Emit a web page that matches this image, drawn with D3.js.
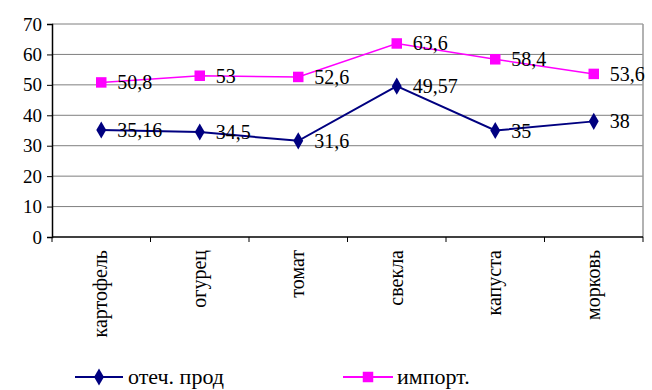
<!DOCTYPE html>
<html>
<head>
<meta charset="utf-8">
<script src="https://cdn.jsdelivr.net/npm/d3@7"></script>
<style>
  body { margin: 0; background: #fff; }
  svg, svg text { font-family: "Liberation Serif", "Times New Roman", Tinos, "DejaVu Serif", serif !important; }
</style>
</head>
<body>
<svg width="652" height="390"></svg>
<script>
// data
const categories = ['картофель', 'огурец', 'томат', 'свекла', 'капуста', 'морковь'];
const domestic = [35.16, 34.5, 31.6, 49.57, 35, 38];
const imported = [50.8, 53, 52.6, 63.6, 58.4, 53.6];
const domesticLabels = ['35,16', '34,5', '31,6', '49,57', '35', '38'];
const importedLabels = ['50,8', '53', '52,6', '63,6', '58,4', '53,6'];
const yTicks = [0, 10, 20, 30, 40, 50, 60, 70];
const seriesNames = ['отеч. прод', 'импорт.'];

const svg = d3.select('svg');
const plot = {left: 52, right: 643, top: 24, bottom: 237};

const xScale = d3.scaleBand()
    .domain(categories)
    .range([plot.left, plot.right]);

const yScale = d3.scaleLinear()
    .domain([0, 70])
    .range([plot.bottom, plot.top]);

// gridlines
svg.append('g')
    .selectAll('line')
    .data(yTicks.filter(d => d > 0))
    .join('line')
    .attr('x1', plot.left)
    .attr('x2', plot.right)
    .attr('y1', d => yScale(d))
    .attr('y2', d => yScale(d))
    .attr('stroke', '#7f7f7f')
    .attr('stroke-width', 1);

// right border of plot area
svg.append('line')
    .attr('x1', plot.right).attr('x2', plot.right)
    .attr('y1', plot.top).attr('y2', plot.bottom)
    .attr('stroke', '#999').attr('stroke-width', 1.5);

// y axis
const yAxis = svg.append('g')
    .attr('transform', `translate(${plot.left},0)`)
    .call(d3.axisLeft(yScale).tickValues(yTicks).tickSize(5).tickPadding(5));
yAxis.attr('font-family', null);
yAxis.select('.domain').attr('stroke', '#000').attr('stroke-width', 1.5);
yAxis.selectAll('.tick line').attr('stroke', '#000');
yAxis.selectAll('text')
    .attr('font-size', 19)
    .attr('fill', '#000');

// x axis: ticks between categories
const xAxis = svg.append('g')
    .attr('transform', `translate(0,${plot.bottom})`);
xAxis.append('line')
    .attr('x1', plot.left).attr('x2', plot.right)
    .attr('stroke', '#000').attr('stroke-width', 1.5);
const boundaries = categories.map(c => xScale(c)).concat([plot.right]);
xAxis.selectAll('.sep')
    .data(boundaries)
    .join('line')
    .attr('class', 'sep')
    .attr('x1', d => d).attr('x2', d => d)
    .attr('y1', 0).attr('y2', 5)
    .attr('stroke', '#000');

svg.append('g')
    .selectAll('text')
    .data(categories)
    .join('text')
    .attr('transform', d => `translate(${xScale(d) + xScale.bandwidth() / 2 + 6},250) rotate(-90)`)
    .attr('text-anchor', 'end')
    .attr('font-size', 20)
    .text(d => d);

const cx = d => xScale(d) + xScale.bandwidth() / 2;

const line = d3.line()
    .x((d, i) => cx(categories[i]))
    .y(d => yScale(d));

const diamond = d3.symbol().type(d3.symbolDiamond).size(85);
const square = d3.symbol().type(d3.symbolSquare).size(110);

function drawSeries(values, labels, color, width, symbol) {
    const g = svg.append('g');
    g.append('path')
        .datum(values)
        .attr('d', line)
        .attr('fill', 'none')
        .attr('stroke', color)
        .attr('stroke-width', width);
    g.selectAll('.pt')
        .data(values)
        .join('path')
        .attr('class', 'pt')
        .attr('d', symbol)
        .attr('transform', (d, i) => `translate(${cx(categories[i])},${yScale(d)})`)
        .attr('fill', color);
    g.selectAll('.lbl')
        .data(values)
        .join('text')
        .attr('class', 'lbl')
        .attr('x', (d, i) => cx(categories[i]) + 16)
        .attr('y', d => yScale(d) + 7)
        .attr('font-size', 20)
        .text((d, i) => labels[i]);
}

drawSeries(imported, importedLabels, '#ff00ff', 1.5, square);
drawSeries(domestic, domesticLabels, '#000080', 2, diamond);

// legend
const legend = [
    {name: seriesNames[0], color: '#000080', symbol: diamond, x1: 75, x2: 123, tx: 128},
    {name: seriesNames[1], color: '#ff00ff', symbol: square, x1: 343, x2: 393, tx: 397}
];
const lg = svg.append('g');
legend.forEach(l => {
    lg.append('line')
        .attr('x1', l.x1).attr('x2', l.x2)
        .attr('y1', 377).attr('y2', 377)
        .attr('stroke', l.color).attr('stroke-width', 2);
    lg.append('path')
        .attr('d', l.symbol)
        .attr('transform', `translate(${(l.x1 + l.x2) / 2},377)`)
        .attr('fill', l.color);
    lg.append('text')
        .attr('x', l.tx)
        .attr('y', 384)
        .attr('font-size', 22)
        .text(l.name);
});
</script>
</body>
</html>
